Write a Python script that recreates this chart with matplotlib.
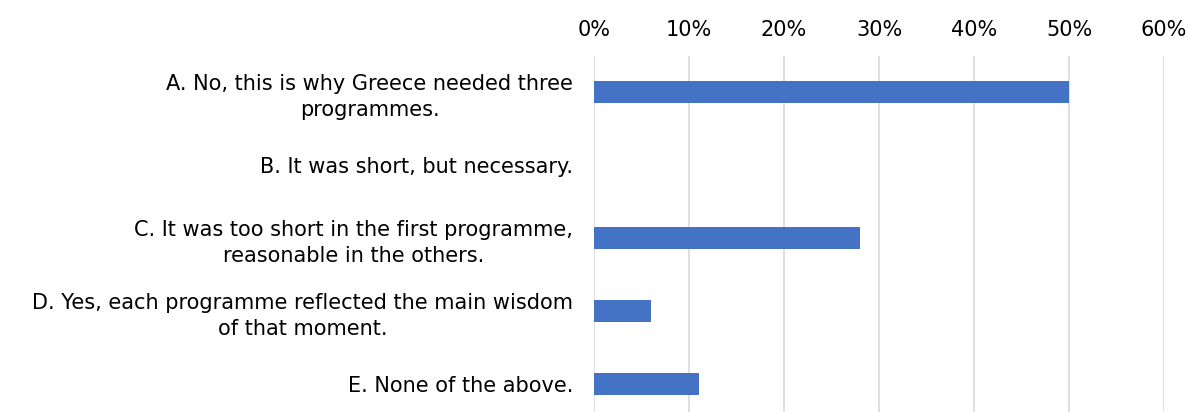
import matplotlib.pyplot as plt
from matplotlib.ticker import PercentFormatter

# survey answers and share of respondents (%)
answers = [
    "A. No, this is why Greece needed three\nprogrammes.",
    "B. It was short, but necessary.",
    "C. It was too short in the first programme,\nreasonable in the others.",
    "D. Yes, each programme reflected the main wisdom\nof that moment.",
    "E. None of the above.",
]
shares = [50, 0, 28, 6, 11]
ticks = [0, 10, 20, 30, 40, 50, 60]

plt.rcParams['font.family'] = 'DejaVu Sans'

fig = plt.figure(figsize=(11.9, 4.12), dpi=100)
ax = fig.add_axes([594 / 1190, 0, 570 / 1190, 1 - 55.5 / 412])

ypos = list(range(len(answers)))
ax.barh(ypos, shares, height=0.3, color='#4472C4', zorder=3)

ax.set_xlim(0, 60)
ax.set_ylim(4 + 28 / 73, -0.5)
ax.set_xticks(ticks)
ax.xaxis.set_major_formatter(PercentFormatter(decimals=0))
ax.xaxis.tick_top()
ax.set_yticks(ypos)
ax.set_yticklabels(answers)
for lab in ax.get_yticklabels():
    lab.set_multialignment('center')
    lab.set_linespacing(1.4)

ax.tick_params(axis='x', length=0, pad=11, labelsize=15, colors='#000000')
ax.tick_params(axis='y', length=0, pad=15, labelsize=15, colors='#000000')
ax.grid(axis='x', color='#D9D9D9', linewidth=1.2, zorder=0)
for s in ax.spines.values():
    s.set_visible(False)

fig.savefig('out.png', dpi=100)
